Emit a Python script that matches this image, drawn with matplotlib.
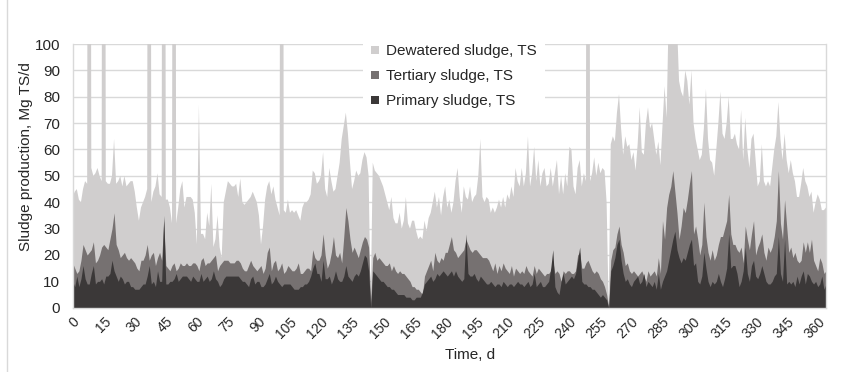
import numpy as np
import matplotlib
matplotlib.use("Agg")
import matplotlib.pyplot as plt
from matplotlib.ticker import MultipleLocator
from matplotlib.lines import Line2D

plt.rcParams['font.family'] = ['Liberation Sans', 'DejaVu Sans']

# daily sludge production, Mg TS/d (values above 100 are clipped by the axis)
dewatered = [
    42, 44, 45, 41, 40, 45, 48, 47, 600, 53,
    50, 51, 53, 50, 48, 600, 48, 47, 47, 50,
    64, 47, 48, 50, 46, 50, 46, 47, 48, 48,
    44, 38, 33, 38, 40, 42, 45, 600, 40, 44,
    46, 51, 43, 42, 600, 41, 41, 38, 32, 600,
    32, 38, 45, 48, 38, 42, 42, 42, 41, 36,
    24, 77, 28, 28, 26, 36, 31, 47, 23, 26,
    35, 23, 19, 40, 44, 48, 47, 46, 46, 47,
    42, 49, 40, 39, 40, 41, 42, 44, 42, 40,
    35, 24, 31, 41, 46, 48, 43, 46, 41, 38,
    35, 600, 37, 36, 41, 36, 37, 36, 37, 35,
    33, 38, 40, 40, 41, 43, 52, 51, 47, 48,
    50, 59, 45, 42, 53, 48, 44, 45, 50, 55,
    64, 69, 74, 66, 55, 45, 48, 52, 50, 51,
    56, 59, 57, 50, 0, 55, 52, 51, 50, 48,
    46, 43, 40, 37, 42, 34, 32, 32, 36, 30,
    33, 42, 32, 30, 33, 33, 29, 26, 27, 26,
    33, 29, 34, 36, 40, 44, 38, 42, 35, 42,
    46, 38, 41, 36, 40, 48, 53, 42, 36, 46,
    42, 41, 46, 40, 42, 43, 50, 64, 42, 40,
    42, 41, 36, 38, 36, 38, 41, 38, 42, 38,
    43, 41, 46, 42, 53, 48, 46, 53, 46, 51,
    65, 46, 51, 61, 48, 56, 46, 51, 53, 46,
    47, 53, 46, 51, 56, 43, 50, 43, 51, 46,
    61, 60, 46, 43, 53, 56, 46, 51, 48, 600,
    48, 51, 57, 50, 55, 51, 53, 52, 40, 0,
    62, 65, 63, 74, 81, 68, 58, 65, 61, 62,
    56, 59, 52, 62, 76, 59, 58, 70, 76, 68,
    70, 64, 58, 63, 54, 69, 84, 72, 112, 118,
    104, 115, 108, 86, 82, 80, 90, 86, 77, 90,
    70, 64, 60, 56, 58, 68, 83, 64, 56, 55,
    50, 60, 70, 82, 66, 64, 70, 80, 64, 64,
    66, 62, 60, 75, 56, 72, 60, 53, 64, 66,
    56, 46, 48, 62, 48, 46, 48, 46, 53, 60,
    65, 78, 64, 56, 66, 56, 51, 56, 51, 48,
    42, 42, 47, 53, 48, 46, 42, 44, 36, 40,
    43, 41, 37, 37, 38,
]

tertiary = [
    17, 15, 13, 14, 18, 24, 22, 20, 21, 22,
    25, 17, 18, 20, 23, 24, 23, 22, 26, 30,
    36, 24, 22, 19, 20, 21, 19, 18, 19, 18,
    17, 15, 14, 18, 18, 20, 24, 18, 20, 21,
    16, 19, 21, 18, 33, 16, 15, 14, 16, 17,
    14, 15, 17, 16, 16, 17, 16, 16, 17, 17,
    16, 14, 18, 19, 16, 17, 17, 18, 19, 20,
    14, 16, 17, 18, 18, 18, 17, 17, 17, 18,
    18, 17, 15, 14, 14, 16, 18, 16, 15, 14,
    15, 16, 13, 15, 21, 23, 14, 17, 18, 14,
    15, 17, 13, 14, 16, 15, 14, 14, 15, 17,
    13, 13, 14, 15, 15, 14, 22, 19, 18, 18,
    20, 28, 20, 15, 17, 21, 27, 20, 19, 21,
    17, 27, 38, 33, 26, 21, 23, 21, 19, 22,
    25, 27, 26, 23, 2, 19, 21, 18, 19, 18,
    17, 16, 16, 17, 14, 16, 14, 13, 14, 13,
    13, 12, 11, 10, 8, 8, 7, 7, 6, 5,
    12, 14, 16, 18, 14, 21, 18, 17, 19, 18,
    21, 21, 24, 27, 22, 21, 19, 20, 21, 22,
    26, 24, 22, 21, 22, 22, 21, 20, 19, 19,
    19, 18, 16, 14, 17, 13, 16, 14, 17, 15,
    14, 13, 16, 12, 15, 14, 13, 14, 13, 16,
    14, 13, 12, 16, 13, 15, 14, 13, 12, 13,
    13, 14, 18, 13, 14, 13, 10, 14, 13, 14,
    14, 13, 13, 14, 20, 21, 15, 15, 17, 18,
    16, 14, 13, 14, 13, 11, 10, 8, 5, 0,
    18, 22, 23, 28, 31, 24, 21, 16, 17, 14,
    13, 14, 13, 12, 13, 14, 12, 10, 14, 12,
    13, 14, 12, 19, 13, 33, 26, 38, 43, 46,
    52, 44, 36, 26, 31, 38, 36, 41, 47, 52,
    28, 31, 26, 20, 24, 40, 27, 21, 18, 22,
    18, 20, 24, 27, 27, 30, 33, 43, 28, 24,
    24, 22, 21, 23, 17, 31, 26, 22, 28, 33,
    20, 23, 25, 28, 21, 18, 23, 21, 23, 27,
    33, 52, 32, 26, 41, 31, 21, 23, 19, 21,
    18, 17, 18, 25, 21, 25, 21, 26, 18, 16,
    14, 19, 17, 13, 14,
]

primary = [
    10, 8, 12, 8, 11, 16, 11, 9, 9, 13,
    16, 9, 10, 10, 11, 9, 12, 12, 13, 18,
    14, 12, 10, 12, 11, 9, 10, 10, 8, 8,
    7, 7, 7, 8, 9, 9, 12, 16, 9, 10,
    8, 14, 10, 10, 35, 9, 9, 10, 10, 11,
    13, 10, 11, 12, 12, 12, 11, 10, 12, 11,
    10, 10, 13, 10, 11, 12, 10, 11, 14, 11,
    10, 8, 9, 11, 12, 12, 12, 12, 12, 12,
    12, 11, 10, 10, 9, 8, 11, 12, 9, 10,
    10, 8, 8, 9, 11, 13, 9, 10, 12, 10,
    9, 8, 9, 9, 9, 9, 8, 7, 7, 7,
    8, 8, 9, 9, 10, 12, 15, 17, 13, 13,
    10, 18, 11, 11, 12, 9, 11, 14, 11, 10,
    10, 12, 16, 12, 11, 10, 12, 13, 12, 14,
    17, 20, 19, 14, 0, 14, 13, 12, 11, 10,
    10, 9, 8, 8, 7, 7, 6, 5, 5, 5,
    5, 4, 4, 4, 3, 3, 4, 4, 4, 6,
    9, 10, 11, 12, 10, 11, 13, 12, 13, 14,
    13, 12, 13, 14, 12, 14, 12, 11, 10, 11,
    28, 13, 12, 12, 13, 11, 10, 12, 11, 10,
    9, 9, 10, 9, 8, 9, 9, 8, 10, 9,
    8, 9, 9, 8, 9, 10, 9, 9, 8, 9,
    10, 8, 9, 13, 8, 9, 10, 8, 8, 9,
    10, 15, 22, 8, 6, 5, 10, 13, 9, 10,
    11, 12, 11, 13, 18, 23, 10, 9, 9, 8,
    8, 7, 7, 6, 5, 4, 5, 4, 3, 0,
    14, 16, 19, 24, 26, 18, 13, 10, 11, 9,
    8, 10, 11, 12, 9, 10, 13, 8, 10, 9,
    8, 10, 7, 13, 7, 10, 12, 14, 18, 22,
    26, 29, 22, 19, 17, 19, 18, 21, 24, 26,
    16, 17, 10, 9, 12, 21, 15, 10, 8, 10,
    9, 10, 13, 10, 8, 11, 15, 28, 15, 16,
    16, 13, 8, 10, 14, 23, 13, 10, 16, 18,
    12, 11, 13, 16, 13, 10, 9, 9, 10, 12,
    13, 27, 13, 10, 26, 9, 10, 9, 10, 8,
    12, 9, 12, 14, 9, 13, 12, 10, 9, 10,
    8, 9, 12, 7, 9,
]

series = [
    ("Dewatered sludge, TS", dewatered, "#D0CECE"),
    ("Tertiary sludge, TS", tertiary, "#767171"),
    ("Primary sludge, TS", primary, "#3B3838"),
]

days = np.arange(len(dewatered))
text_color = "#262626"
grid_color = "#D9D9D9"

fig = plt.figure(figsize=(8.57, 3.72), dpi=100)
ax = fig.add_axes([0.0848, 0.1728, 0.8790, 0.7089])

for name, values, color in series:
    ax.fill_between(days, 0, values, color=color, linewidth=0, label=name, zorder=2)

ax.set_xlim(0, days[-1])
ax.set_ylim(0, 100)

# axes, ticks and grid
ax.yaxis.set_major_locator(MultipleLocator(10))
ax.xaxis.set_major_locator(MultipleLocator(15))
ax.xaxis.set_minor_locator(MultipleLocator(10))
ax.grid(axis='y', color=grid_color, linewidth=1, zorder=0)
ax.set_axisbelow(True)
ax.tick_params(axis='y', length=0, pad=9, labelsize=11, labelcolor=text_color)
ax.tick_params(axis='x', which='major', length=0, pad=5, labelsize=10,
               labelcolor=text_color)
ax.tick_params(axis='x', which='minor', direction='in', length=3,
               color=grid_color, width=1)
for lbl in ax.get_xticklabels():
    lbl.set_rotation(45)
    lbl.set_ha('right')
    lbl.set_va('top')
    lbl.set_rotation_mode('anchor')

ax.spines['top'].set_visible(False)
for side in ['left', 'right', 'bottom']:
    ax.spines[side].set_color(grid_color)
    ax.spines[side].set_linewidth(1)

ax.set_ylabel("Sludge production, Mg TS/d", fontsize=11, color=text_color)
ax.yaxis.set_label_coords(-0.053, 0.575)
ax.set_xlabel("Time, d", fontsize=11, color=text_color)
ax.xaxis.set_label_coords(0.527, -0.18)
ax.xaxis.label.set_va('center')

leg = ax.legend(loc='upper left', bbox_to_anchor=(0.423, 0.903),
                bbox_transform=fig.transFigure, frameon=True, fancybox=False,
                fontsize=11, handlelength=0.52, handleheight=0.42,
                handletextpad=0.45, labelspacing=0.72, borderpad=0.55,
                borderaxespad=0)
leg.get_frame().set_facecolor('white')
leg.get_frame().set_edgecolor('none')
leg.get_frame().set_alpha(1)
for t in leg.get_texts():
    t.set_color(text_color)

# chart area border on the left edge
fig.add_artist(Line2D([7.5 / 857, 7.5 / 857], [0, 1], color=grid_color,
                      linewidth=1, transform=fig.transFigure))

fig.savefig("out.png", dpi=100)
